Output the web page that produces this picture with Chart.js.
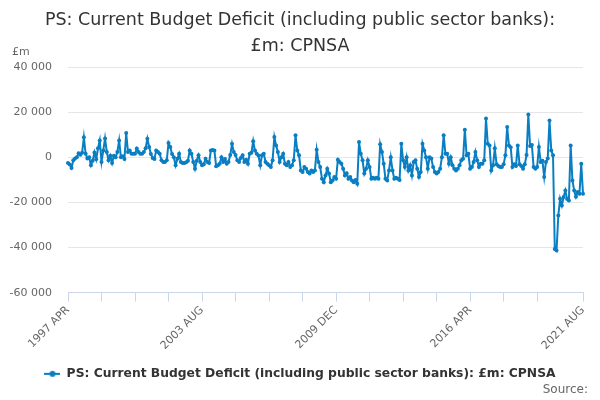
<!DOCTYPE html>
<html>
<head>
<meta charset="utf-8">
<script src="https://cdn.jsdelivr.net/npm/chart.js@4.4.1/dist/chart.umd.min.js"></script>
<style>
  body { margin: 0; background: #fff; }
  #wrap { width: 600px; height: 400px; }
</style>
</head>
<body>
<div id="wrap"><canvas id="myChart"></canvas></div>
<script>
// monthly values, £m, from 1997 APR onwards (fiscal years Apr..Mar)
const fy1997to2001 = [
  -2500, -3200, -4700, -1300, -500, 0, 1800, 1200, 2000, 8900, 1600, -500,
  0, -3500, -1500, 2200, -800, 4000, 7500, -2000, 3000, 8400, 2400, -1300,
  700, -2500, 700, 0, 2400, 7500, 0, 500, -700, 10800, 2400, 3100,
  1600, 1600, 1600, 3900, 2400, 1600, 1600, 2400, 4000, 8300, 4600, 1500,
  -300, -700, 3100, 2400, 1600, -1300, -2000, -2000, -1300, 6400, 4600, 1500
];
const fy2002to2006 = [
  0, -3500, -600, 1600, -2000, -2500, -2500, -2200, -1500, 3100, 1600, -2000,
  -5000, -1500, 900, -2000, -3500, -3000, -600, -2000, -2500, 3100, 3300, 3100,
  -3900, -3500, -2800, 0, -2000, -700, -2800, -2000, 1000, 6000, 2400, 1000,
  -1300, -2000, -300, 900, -2000, -1000, -2800, 1600, 2000, 7200, 3000, 1600,
  800, -3500, 900, 1600, -2000, -2800, -3500, -4300, -1300, 9000, 5300, 2400
];
const fy2007to2011 = [
  -2000, 0, 1600, -2800, -3500, -2000, -4300, -3500, -1300, 9800, 3100, 900,
  -5800, -6500, -4300, -5000, -6500, -7200, -5800, -6500, -5800, 3400, -2000, -4300,
  -9500, -11000, -8000, -5000, -7200, -11000, -10200, -8700, -9500, -1000, -2000, -2800,
  -5000, -8000, -7000, -9500, -8700, -10200, -11000, -10000, -11700, 6800, 1600, -1300,
  -7200, -5000, -1300, -4300, -9500, -9000, -9500, -9000, -9500, 5800, 2400, -2800
];
const fy2012to2016 = [
  -9500, -10200, -5800, 0, -5800, -9500, -9000, -9500, -10000, 6000, -1300, -4300,
  0, -5800, -3500, -8000, -2000, -1300, -5000, -8700, -6500, 6000, 3100, 0,
  -5000, 0, -500, -4300, -6500, -7200, -6500, -5000, 0, 9800, 1600, 1600,
  -2800, 0, -3500, -5000, -5800, -5000, -3500, -1300, -600, 12300, 900, 1600,
  -5000, -4300, -2000, 2400, -1300, -4300, -2800, -2800, -1300, 17200, 6000, 5300
];
const fy2017to2021 = [
  -5800, -3500, 4000, -3000, -3800, -4300, -4300, -3000, 900, 13500, 5300, 4500,
  -4300, -3000, -3800, 5300, -3000, -3800, -5000, -3000, 1000, 19000, 5000, 5500,
  -4300, -5000, -4300, 4600, -2000, -1500, -8700, -2000, -500, 16400, 3100, 900,
  -40600, -41300, -25800, -18400, -21300, -17600, -14700, -18500, -19100, 5300, -10200, -14700,
  -17500, -15400, -16100, -2800, -16100
];

const monthNames = ['JAN', 'FEB', 'MAR', 'APR', 'MAY', 'JUN', 'JUL', 'AUG', 'SEP', 'OCT', 'NOV', 'DEC'];
const startYear = 1997;
const startMonth = 3; // APR
const shownLabels = ['1997 APR', '2003 AUG', '2009 DEC', '2016 APR', '2021 AUG'];

const seriesName = 'PS: Current Budget Deficit (including public sector banks): £m: CPNSA';
const titleLines = ['PS: Current Budget Deficit (including public sector banks):', '£m: CPNSA'];
const unitLabel = '£m';
const sourceLabel = 'Source:';
const lineColour = '#0a7ec2';

const values = [].concat(fy1997to2001, fy2002to2006, fy2007to2011, fy2012to2016, fy2017to2021);
const labels = values.map((v, i) => {
  const m = startMonth + i;
  return (startYear + Math.floor(m / 12)) + ' ' + monthNames[m % 12];
});

// legend symbol: short line with a dot
const marker = document.createElement('canvas');
marker.width = 16;
marker.height = 8;
const mctx = marker.getContext('2d');
mctx.strokeStyle = lineColour;
mctx.lineWidth = 2;
mctx.beginPath();
mctx.moveTo(0, 4);
mctx.lineTo(16, 4);
mctx.stroke();
mctx.fillStyle = lineColour;
mctx.beginPath();
mctx.arc(8, 4, 3, 0, Math.PI * 2);
mctx.fill();

const extraText = {
  id: 'extraText',
  afterDraw(chart) {
    const ctx = chart.ctx;
    ctx.save();
    ctx.textBaseline = 'middle';
    ctx.fillStyle = '#666666';
    ctx.font = '11px "DejaVu Sans"';
    ctx.textAlign = 'left';
    ctx.fillText(unitLabel, 12, 52);
    ctx.font = '12px "DejaVu Sans"';
    ctx.textAlign = 'right';
    ctx.fillText(sourceLabel, 588, 390);
    ctx.restore();
  }
};

const ctx = document.getElementById('myChart').getContext('2d');
const myChart = new Chart(ctx, {
  type: 'line',
  data: {
    labels: labels,
    datasets: [{
      label: seriesName,
      data: values,
      borderColor: lineColour,
      backgroundColor: lineColour,
      borderWidth: 2,
      pointRadius: 2,
      pointBorderWidth: 0,
      tension: 0,
      fill: false
    }]
  },
  options: {
    responsive: true,
    maintainAspectRatio: false,
    animation: false,
    layout: { padding: { left: 0, right: 0, top: 0, bottom: 10 } },
    plugins: {
      title: {
        display: true,
        text: titleLines,
        color: '#333333',
        font: { family: 'DejaVu Sans', size: 17.5, weight: 'normal', lineHeight: 1.49 },
        padding: { top: 7, bottom: 8 }
      },
      legend: {
        position: 'bottom',
        labels: {
          usePointStyle: true,
          pointStyle: marker,
          pointStyleWidth: 16,
          boxHeight: 8,
          padding: 10,
          color: '#333333',
          font: { family: 'DejaVu Sans', size: 12.3, weight: 'bold' }
        }
      },
      tooltip: { enabled: false }
    },
    scales: {
      x: {
        afterFit: scale => { scale.height = 65; },
        grid: {
          drawOnChartArea: false,
          drawTicks: true,
          tickLength: 9,
          color: '#ccd6eb'
        },
        border: { display: true, color: '#ccd6eb' },
        ticks: {
          autoSkip: false,
          minRotation: 45,
          maxRotation: 45,
          padding: 2,
          color: '#666666',
          font: { family: 'DejaVu Sans', size: 11 },
          callback: function (value, index) {
            const lab = labels[index];
            if (shownLabels.includes(lab)) return lab;
            if (index % 19 === 0 && index < 280) return '';
            return null;
          }
        }
      },
      y: {
        min: -60000,
        max: 40000,
        afterFit: scale => { scale.width = 68; },
        grid: { color: '#e6e6e6', drawTicks: false },
        border: { display: false },
        ticks: {
          stepSize: 20000,
          padding: 16,
          color: '#666666',
          font: { family: 'DejaVu Sans', size: 11 },
          callback: v => v.toLocaleString('en-US').replace(/,/g, ' ')
        }
      },
      // empty right-hand margin so the plot ends where the original does
      spacer: {
        type: 'linear',
        position: 'right',
        afterFit: scale => { scale.width = 17; },
        grid: { display: false },
        border: { display: false },
        ticks: { display: false }
      }
    }
  },
  plugins: [extraText]
});
</script>
</body>
</html>
